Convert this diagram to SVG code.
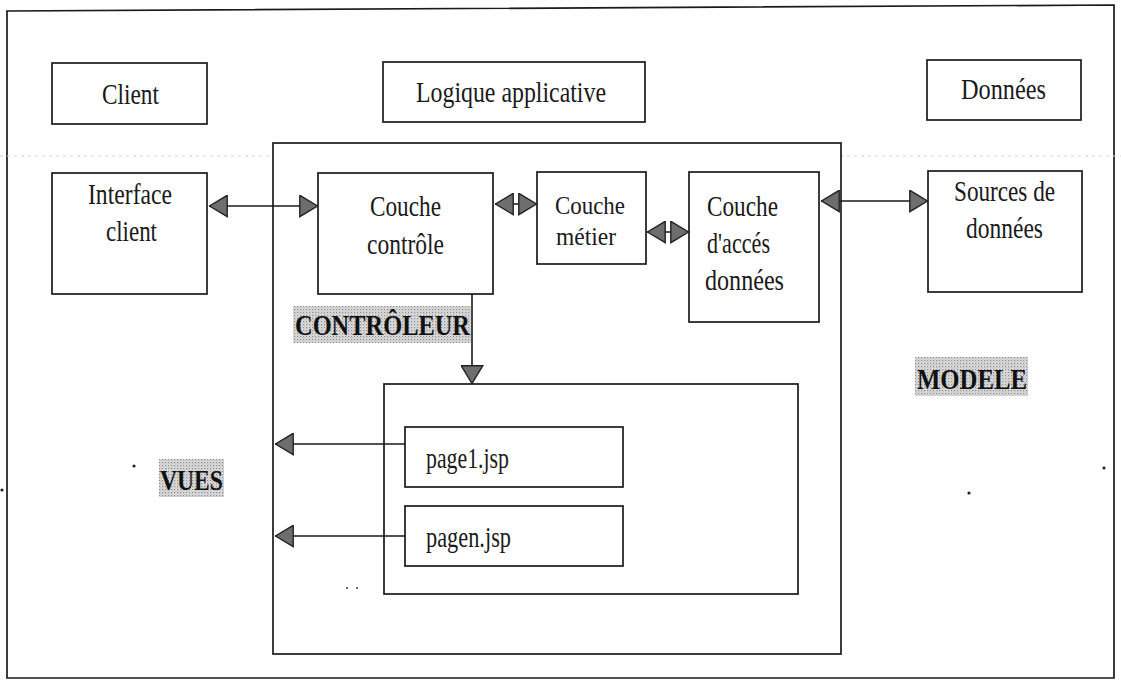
<svg xmlns="http://www.w3.org/2000/svg" width="1121" height="681" viewBox="0 0 1121 681">
  <style>
    .box { fill: #ffffff; stroke: #1a1a1a; stroke-width: 1.7; }
    .frame { fill: none; stroke: #1a1a1a; stroke-width: 1.7; }
    .lbl { font-family: "Liberation Serif", "Times New Roman", serif; font-size: 30px; fill: #1a1a1a; }
    .lbl.tight { font-size: 26px; }
    .tag { font-family: "Liberation Serif", "Times New Roman", serif; font-size: 29px; font-weight: bold; fill: #111111; }
    .wire { fill: none; stroke: #1a1a1a; stroke-width: 1.6; }
    .scan { fill: none; stroke: #d4d4d4; stroke-width: 1; stroke-dasharray: 3 4; }
    .speck { fill: #222222; }
  </style>
  <defs>
    <!-- grey screened arrowhead used on every connector -->
    <marker id="head" viewBox="0 0 19 23" refX="19" refY="11.5" markerWidth="19" markerHeight="23" markerUnits="userSpaceOnUse" orient="auto-start-reverse">
      <path d="M0.8,0.8 L18.5,11.5 L0.8,22.2 Z" fill="#6e6e6e" stroke="#222222" stroke-width="1.4"/>
    </marker>
    <!-- halftone screen behind the section tags -->
    <pattern id="screen" width="3" height="3" patternUnits="userSpaceOnUse">
      <rect width="3" height="3" fill="#dedede"/>
      <rect width="1.2" height="1.2" fill="#8a8a8a"/>
      <rect x="1.5" y="1.5" width="1" height="1" fill="#a8a8a8"/>
    </pattern>
  </defs>

  <rect width="1121" height="681" fill="#ffffff"/>

  <!-- page frame -->
  <path class="frame" d="M7,11 L1114,5 L1114,678 L7,678 Z"/>
  <line class="scan" x1="0" y1="156" x2="1121" y2="156"/>

  <!-- column headers -->
  <g id="client">
    <rect class="box" x="52" y="63" width="155" height="61"/>
    <text class="lbl" x="102" y="104" textLength="57" lengthAdjust="spacingAndGlyphs">Client</text>
  </g>
  <g id="logique-applicative">
    <rect class="box" x="383" y="62" width="262" height="60"/>
    <text class="lbl" x="416" y="102" textLength="190" lengthAdjust="spacingAndGlyphs">Logique applicative</text>
  </g>
  <g id="donnees">
    <rect class="box" x="927" y="60" width="154" height="60"/>
    <text class="lbl" x="961" y="99" textLength="85" lengthAdjust="spacingAndGlyphs">Données</text>
  </g>

  <!-- application tier container -->
  <g id="logique-container">
    <rect class="box" x="273" y="143" width="568" height="511"/>
  </g>

  <g id="interface-client">
    <rect class="box" x="52" y="173" width="155" height="121"/>
    <text class="lbl" x="88" y="204" textLength="84" lengthAdjust="spacingAndGlyphs">Interface</text>
    <text class="lbl" x="106" y="241" textLength="51" lengthAdjust="spacingAndGlyphs">client</text>
  </g>
  <g id="couche-controle">
    <rect class="box" x="318" y="173" width="175" height="121"/>
    <text class="lbl" x="370" y="216" textLength="71" lengthAdjust="spacingAndGlyphs">Couche</text>
    <text class="lbl" x="367" y="254" textLength="77" lengthAdjust="spacingAndGlyphs">contrôle</text>
  </g>
  <g id="couche-metier">
    <rect class="box" x="537" y="172" width="109" height="92"/>
    <text class="lbl tight" x="555" y="214" textLength="70" lengthAdjust="spacingAndGlyphs">Couche</text>
    <text class="lbl tight" x="556" y="245" textLength="60" lengthAdjust="spacingAndGlyphs">métier</text>
  </g>
  <g id="couche-acces">
    <rect class="box" x="689" y="172" width="130" height="150"/>
    <text class="lbl" x="707" y="216" textLength="71" lengthAdjust="spacingAndGlyphs">Couche</text>
    <text class="lbl" x="707" y="253" textLength="63" lengthAdjust="spacingAndGlyphs">d'accés</text>
    <text class="lbl" x="705" y="290" textLength="79" lengthAdjust="spacingAndGlyphs">données</text>
  </g>
  <g id="sources-donnees">
    <rect class="box" x="928" y="171" width="154" height="121"/>
    <text class="lbl" x="954" y="201" textLength="101" lengthAdjust="spacingAndGlyphs">Sources de</text>
    <text class="lbl" x="966" y="238" textLength="77" lengthAdjust="spacingAndGlyphs">données</text>
  </g>

  <!-- views block -->
  <g id="vues-container">
    <rect class="box" x="384" y="384" width="414" height="210"/>
  </g>
  <g id="page1">
    <rect class="box" x="405" y="427" width="218" height="60"/>
    <text class="lbl" x="426" y="468" textLength="83" lengthAdjust="spacingAndGlyphs">page1.jsp</text>
  </g>
  <g id="pagen">
    <rect class="box" x="405" y="506" width="218" height="60"/>
    <text class="lbl" x="426" y="547" textLength="85" lengthAdjust="spacingAndGlyphs">pagen.jsp</text>
  </g>

  <!-- section tags -->
  <g id="tag-controleur">
    <rect x="293" y="306" width="178" height="37" fill="url(#screen)"/>
    <text class="tag" x="295" y="335" textLength="175" lengthAdjust="spacingAndGlyphs">CONTRÔLEUR</text>
  </g>
  <g id="tag-vues">
    <rect x="159" y="459" width="65" height="38" fill="url(#screen)"/>
    <text class="tag" x="160" y="490" textLength="63" lengthAdjust="spacingAndGlyphs">VUES</text>
  </g>
  <g id="tag-modele">
    <rect x="915" y="357" width="113" height="39" fill="url(#screen)"/>
    <text class="tag" x="917" y="389" textLength="110" lengthAdjust="spacingAndGlyphs">MODELE</text>
  </g>

  <!-- connectors -->
  <g id="connectors">
    <line class="wire" x1="209" y1="206" x2="318" y2="206" marker-start="url(#head)" marker-end="url(#head)"/>
    <line class="wire" x1="495" y1="204" x2="537" y2="204" marker-start="url(#head)" marker-end="url(#head)"/>
    <line class="wire" x1="647" y1="232" x2="689" y2="232" marker-start="url(#head)" marker-end="url(#head)"/>
    <line class="wire" x1="821" y1="201" x2="928" y2="201" marker-start="url(#head)" marker-end="url(#head)"/>
    <line class="wire" x1="472" y1="294" x2="472" y2="384" marker-end="url(#head)"/>
    <line class="wire" x1="405" y1="444" x2="275" y2="444" marker-end="url(#head)"/>
    <line class="wire" x1="405" y1="536" x2="275" y2="536" marker-end="url(#head)"/>
  </g>

  <!-- loose printer specks -->
  <g id="specks">
    <circle class="speck" cx="134" cy="466" r="1.6"/>
    <circle class="speck" cx="2" cy="490" r="1.6"/>
    <circle class="speck" cx="969" cy="493" r="1.6"/>
    <circle class="speck" cx="1104" cy="468" r="1.6"/>
    <circle class="speck" cx="347" cy="588" r="0.9"/>
    <circle class="speck" cx="357" cy="588" r="0.9"/>
  </g>
</svg>
